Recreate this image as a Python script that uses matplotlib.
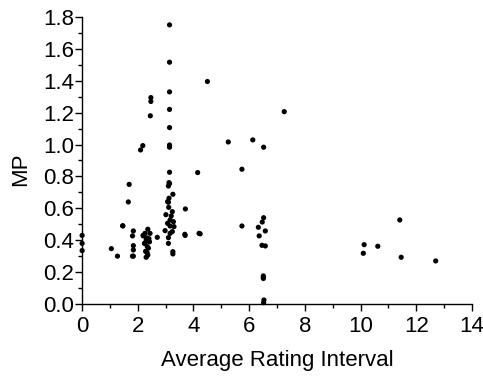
import numpy as np
import matplotlib.pyplot as plt
from matplotlib.ticker import MultipleLocator

plt.rcParams['font.family'] = ['Liberation Sans', 'DejaVu Sans']

# average rating interval vs MP
interval = [
    0.0, 0.0, 0.0,
    1.05, 1.27, 1.46, 1.46, 1.66, 1.69,
    1.81, 1.84, 1.84, 1.84, 1.81, 1.84,
    2.10, 2.18, 2.19, 2.24,
    2.20, 2.26, 2.36, 2.44, 2.32, 2.40, 2.30, 2.42, 2.26, 2.34, 2.38, 2.28, 2.36, 2.30, 2.34,
    2.45, 2.47, 2.47, 2.70,
    2.98, 3.01, 3.07, 3.07, 3.10, 3.10, 3.11, 3.12, 3.14, 3.16, 3.16, 3.16, 3.20, 3.24,
    3.24, 3.26, 3.26, 3.28, 3.30, 3.10, 3.12, 3.26, 3.10, 3.14, 3.14, 3.14, 3.14, 3.14,
    3.14, 3.14, 3.14,
    3.69, 3.70, 3.71, 4.15, 4.20, 4.24, 4.50,
    5.25, 5.74, 5.74, 6.13, 6.52, 7.26,
    6.52, 6.47, 6.33, 6.58, 6.36, 6.46, 6.58, 6.51, 6.51, 6.51, 6.53, 6.52,
    10.13, 10.62, 10.10, 11.41, 11.46, 12.70,
]
mp = [
    0.43, 0.38, 0.335,
    0.347, 0.30, 0.49, 0.49, 0.64, 0.75,
    0.427, 0.458, 0.366, 0.339, 0.30, 0.30,
    0.966, 0.993, 0.43, 0.38,
    0.427, 0.443, 0.469, 0.443, 0.415, 0.41, 0.40, 0.39, 0.38, 0.36, 0.35, 0.33, 0.307, 0.293, 0.32,
    1.18, 1.27, 1.294, 0.418,
    0.46, 0.56, 0.642, 0.506, 0.416, 0.38, 0.606, 0.761, 0.826, 0.527, 0.489, 0.443, 0.552, 0.579,
    0.454, 0.328, 0.314, 0.516, 0.485, 0.74, 0.663, 0.688, 0.638, 0.755, 0.983, 0.997, 1.106, 1.22,
    1.33, 1.516, 1.75,
    0.437, 0.43, 0.596, 0.824, 0.443, 0.44, 1.395,
    1.016, 0.845, 0.489, 1.029, 0.983, 1.206,
    0.541, 0.514, 0.481, 0.458, 0.427, 0.368, 0.364, 0.176, 0.168, 0.16, 0.025, 0.008,
    0.372, 0.362, 0.318, 0.527, 0.293, 0.27,
]

fig = plt.figure(figsize=(4.83, 3.76), dpi=100)
ax = fig.add_axes([0.170, 0.1915, 0.807, 0.7635])
ax.scatter(interval, mp, s=14, color='black', edgecolors='none', clip_on=False, zorder=3)

ax.set_xlim(0, 14)
ax.set_ylim(0, 1.8)
ax.xaxis.set_major_locator(MultipleLocator(2))
ax.xaxis.set_minor_locator(MultipleLocator(1))
ax.yaxis.set_major_locator(MultipleLocator(0.2))
ax.yaxis.set_minor_locator(MultipleLocator(0.1))
ax.yaxis.set_major_formatter(plt.FormatStrFormatter('%.1f'))

for side in ['top', 'right']:
    ax.spines[side].set_visible(False)
for side in ['left', 'bottom']:
    ax.spines[side].set_linewidth(1.0)

ax.tick_params(which='major', direction='out', length=5, width=1, labelsize=16, pad=1)
ax.tick_params(axis='x', which='major', pad=4)
ax.tick_params(which='minor', direction='out', length=3, width=1)

ax.set_xlabel('Average Rating Interval', fontsize=16, labelpad=9)
ax.set_ylabel('MP', fontsize=16, labelpad=8)
ax.yaxis.set_label_coords(-0.13, 0.47)

fig.savefig('out.png', dpi=100)
